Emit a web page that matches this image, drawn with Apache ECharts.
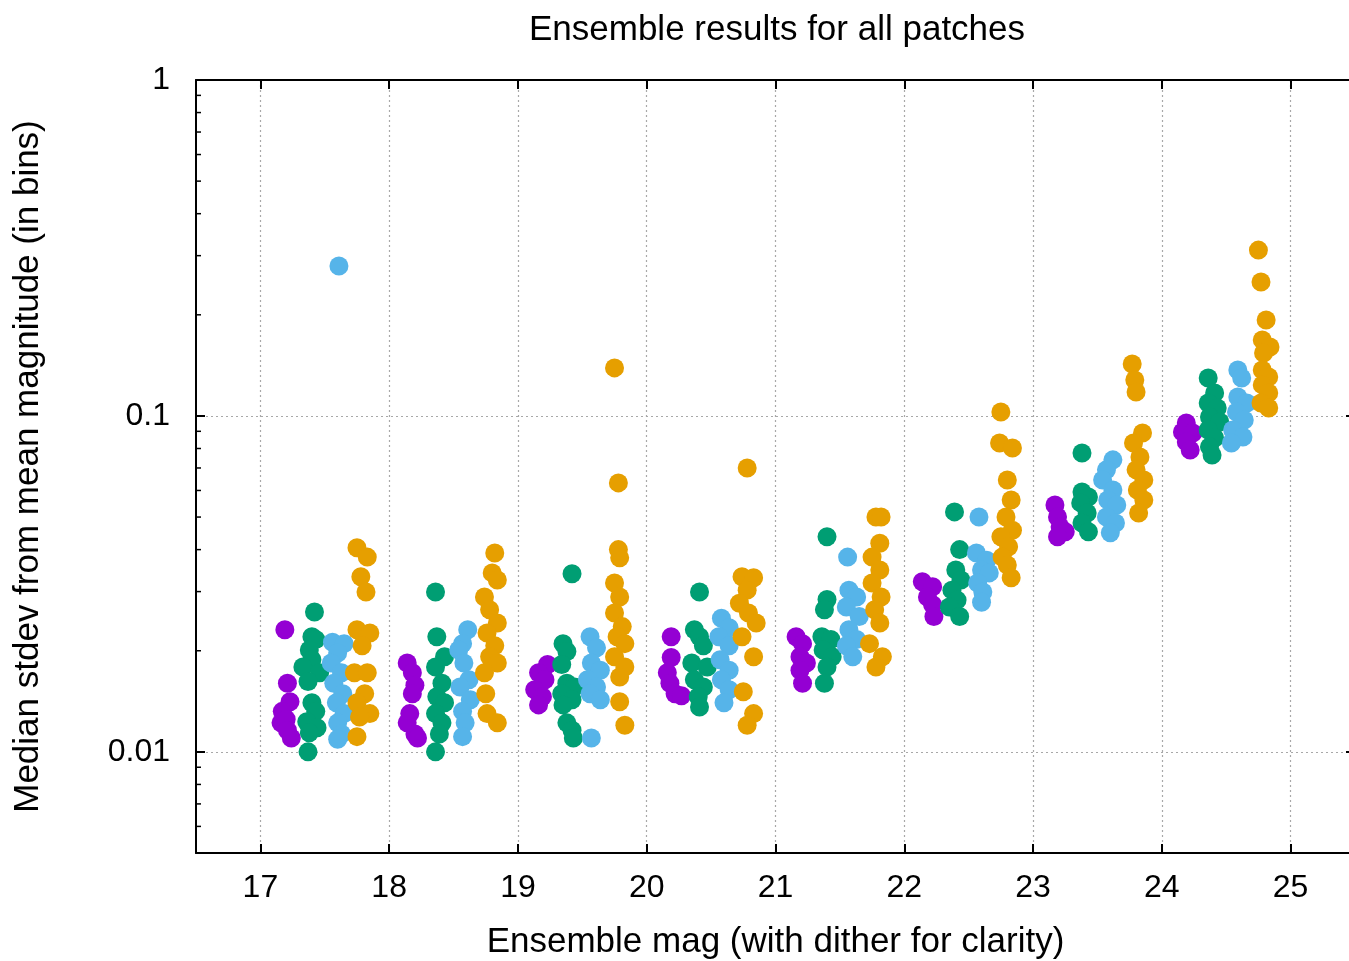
<!DOCTYPE html>
<html>
<head>
<meta charset="utf-8">
<script src="https://cdn.jsdelivr.net/npm/echarts@6/dist/echarts.min.js"></script>
<style>
html,body{margin:0;padding:0;background:#fff;}
#chart{width:1349px;height:961px;}
</style>
</head>
<body>
<div id="chart"></div>
<script>
// ---- data (x = ensemble mag with dither, y = median stdev) ----
const xTicks = [17, 18, 19, 20, 21, 22, 23, 24, 25];
const yMajorTicks = [0.01, 0.1, 1];
const yMinorTicks = [0.006, 0.007, 0.008, 0.009,
  0.02, 0.03, 0.04, 0.05, 0.06, 0.07, 0.08, 0.09,
  0.2, 0.3, 0.4, 0.5, 0.6, 0.7, 0.8, 0.9];

const purplePts = [
  [17.19,0.0231],[17.21,0.0160],[17.23,0.0141],[17.17,0.0132],[17.16,0.0122],[17.20,0.0125],[17.24,0.0110],[17.21,0.0116],
  [18.14,0.0184],[18.18,0.0172],[18.20,0.0158],[18.18,0.0149],[18.16,0.0130],[18.14,0.0122],[18.20,0.0113],[18.22,0.0110],
  [19.23,0.0182],[19.16,0.0172],[19.21,0.0164],[19.13,0.0153],[19.19,0.0146],[19.16,0.0138],
  [20.19,0.0220],[20.19,0.0191],[20.16,0.0172],[20.18,0.0160],[20.22,0.0149],[20.27,0.0147],
  [21.16,0.0220],[21.21,0.0210],[21.19,0.0192],[21.24,0.0184],[21.19,0.0175],[21.21,0.0160],
  [22.14,0.0321],[22.22,0.0310],[22.18,0.0289],[22.22,0.0274],[22.23,0.0253],
  [23.17,0.0543],[23.19,0.0500],[23.21,0.0467],[23.25,0.0452],[23.19,0.0437],
  [24.19,0.0953],[24.16,0.0896],[24.24,0.0890],[24.19,0.0837],[24.22,0.0792]
];
const greenPts = [
  [17.42,0.0261],[17.40,0.0220],[17.43,0.0216],[17.38,0.0201],[17.40,0.0188],[17.33,0.0179],[17.46,0.0172],[17.37,0.0162],
  [17.40,0.0140],[17.43,0.0132],[17.36,0.0123],[17.44,0.0118],[17.38,0.0114],[17.37,0.0100],
  [18.36,0.0299],[18.37,0.0220],[18.43,0.0192],[18.36,0.0179],[18.41,0.0160],[18.37,0.0146],[18.43,0.0140],[18.36,0.0130],
  [18.41,0.0122],[18.39,0.0113],[18.36,0.0100],
  [19.42,0.0339],[19.35,0.0210],[19.38,0.0199],[19.34,0.0182],[19.38,0.0160],[19.44,0.0156],[19.34,0.0149],[19.42,0.0143],
  [19.35,0.0138],[19.38,0.0122],[19.42,0.0116],[19.43,0.0110],
  [20.41,0.0299],[20.37,0.0231],[20.41,0.0220],[20.44,0.0207],[20.35,0.0184],[20.47,0.0179],[20.37,0.0164],[20.44,0.0156],
  [20.40,0.0146],[20.41,0.0136],
  [21.40,0.0437],[21.40,0.0284],[21.38,0.0265],[21.36,0.0220],[21.43,0.0216],[21.37,0.0201],[21.44,0.0192],[21.40,0.0179],[21.38,0.0160],
  [22.39,0.0518],[22.43,0.0400],[22.40,0.0348],[22.44,0.0325],[22.37,0.0303],[22.41,0.0283],[22.35,0.0270],[22.43,0.0253],
  [23.38,0.0776],[23.38,0.0594],[23.43,0.0574],[23.37,0.0551],[23.42,0.0514],[23.38,0.0480],[23.43,0.0452],
  [24.36,0.1297],[24.41,0.1171],[24.36,0.1093],[24.43,0.1056],[24.37,0.0993],[24.45,0.0960],[24.36,0.0908],[24.41,0.0860],
  [24.37,0.0809],[24.39,0.0765]
];
const bluePts = [
  [17.56,0.0212],[17.65,0.0210],[17.60,0.0197],[17.55,0.0184],[17.63,0.0172],[17.57,0.0160],[17.64,0.0149],[17.59,0.0140],
  [17.65,0.0130],[17.60,0.0122],[17.63,0.0113],[17.60,0.0109],[17.61,0.2795],
  [18.61,0.0231],[18.57,0.0210],[18.54,0.0201],[18.58,0.0184],[18.62,0.0164],[18.55,0.0156],[18.63,0.0143],[18.57,0.0132],
  [18.59,0.0122],[18.57,0.0111],
  [19.56,0.0220],[19.61,0.0204],[19.57,0.0184],[19.64,0.0175],[19.54,0.0164],[19.61,0.0156],[19.56,0.0149],[19.64,0.0143],[19.57,0.0110],
  [20.58,0.0250],[20.64,0.0234],[20.56,0.0220],[20.64,0.0207],[20.57,0.0188],[20.64,0.0175],[20.58,0.0164],[20.64,0.0153],[20.60,0.0140],
  [21.56,0.0380],[21.57,0.0303],[21.63,0.0289],[21.55,0.0270],[21.65,0.0253],[21.57,0.0231],[21.63,0.0216],[21.55,0.0207],[21.60,0.0192],
  [22.58,0.0500],[22.56,0.0391],[22.64,0.0372],[22.60,0.0348],[22.66,0.0341],[22.57,0.0318],[22.61,0.0299],[22.60,0.0279],
  [23.62,0.0740],[23.57,0.0691],[23.54,0.0645],[23.62,0.0602],[23.58,0.0562],[23.65,0.0543],[23.57,0.0500],[23.64,0.0480],[23.60,0.0449],
  [24.59,0.1370],[24.62,0.1297],[24.59,0.1139],[24.66,0.1093],[24.58,0.1028],[24.64,0.0973],[24.55,0.0908],[24.63,0.0866],[24.54,0.0831]
];
const orangePts = [
  [17.75,0.0405],[17.83,0.0380],[17.78,0.0332],[17.82,0.0299],[17.75,0.0231],[17.85,0.0226],[17.79,0.0207],[17.73,0.0172],
  [17.83,0.0172],[17.81,0.0149],[17.75,0.0140],[17.85,0.0130],[17.77,0.0127],[17.75,0.0111],
  [18.82,0.0391],[18.80,0.0341],[18.84,0.0325],[18.74,0.0289],[18.78,0.0265],[18.84,0.0242],[18.76,0.0226],[18.82,0.0207],
  [18.78,0.0192],[18.84,0.0184],[18.74,0.0172],[18.75,0.0149],[18.76,0.0130],[18.84,0.0122],
  [19.75,0.1390],[19.78,0.0632],[19.78,0.0400],[19.79,0.0378],[19.75,0.0318],[19.79,0.0289],[19.75,0.0259],[19.81,0.0236],
  [19.77,0.0220],[19.83,0.0210],[19.75,0.0192],[19.83,0.0179],[19.79,0.0167],[19.79,0.0141],[19.83,0.0120],
  [20.78,0.0700],[20.74,0.0332],[20.83,0.0330],[20.78,0.0303],[20.72,0.0277],[20.79,0.0259],[20.85,0.0242],[20.74,0.0220],
  [20.83,0.0192],[20.75,0.0151],[20.83,0.0130],[20.78,0.0120],
  [21.78,0.0500],[21.82,0.0500],[21.81,0.0418],[21.75,0.0380],[21.81,0.0348],[21.75,0.0318],[21.82,0.0289],[21.77,0.0265],
  [21.81,0.0242],[21.73,0.0210],[21.83,0.0192],[21.78,0.0179],
  [22.75,0.1028],[22.74,0.0831],[22.84,0.0803],[22.80,0.0645],[22.83,0.0562],[22.79,0.0500],[22.84,0.0457],[22.75,0.0437],
  [22.81,0.0408],[22.76,0.0380],[22.80,0.0360],[22.83,0.0330],
  [23.77,0.1428],[23.79,0.1280],[23.80,0.1179],[23.85,0.0890],[23.78,0.0831],[23.83,0.0755],[23.80,0.0691],[23.86,0.0645],
  [23.81,0.0602],[23.86,0.0562],[23.82,0.0514],
  [24.75,0.3116],[24.77,0.2505],[24.81,0.1931],[24.78,0.1684],[24.84,0.1604],[24.79,0.1540],[24.78,0.1370],[24.83,0.1306],
  [24.78,0.1237],[24.83,0.1171],[24.77,0.1093],[24.83,0.1056]
];

// ---- chart ----
const FONT = 'Liberation Sans';
const X_MIN = 16.5, X_MAX = 25.5, Y_MIN = 0.005, Y_MAX = 1;
const gridLine = { show: true, lineStyle: { color: '#a8a8a8', width: 1.2, type: [2, 3] } };

const chart = echarts.init(document.getElementById('chart'), null, { renderer: 'canvas' });

function scatter(name, data, color) {
  return {
    name: name, type: 'scatter', data: data, symbol: 'circle', symbolSize: 19,
    itemStyle: { color: color, opacity: 1 }, xAxisIndex: 0, yAxisIndex: 0, z: 3
  };
}

const minorTickSeries = {
  type: 'custom', silent: true, z: 5, clip: false,
  xAxisIndex: 0, yAxisIndex: 0,
  data: yMinorTicks.map(v => [v]),
  renderItem: function (params, api) {
    const v = api.value(0);
    const pl = api.coord([X_MIN, v]);
    const pr = api.coord([X_MAX, v]);
    const len = 5;
    return {
      type: 'group',
      children: [
        { type: 'line', shape: { x1: pl[0], y1: pl[1], x2: pl[0] + len, y2: pl[1] }, style: { stroke: '#000', lineWidth: 1.5 } },
        { type: 'line', shape: { x1: pr[0], y1: pr[1], x2: pr[0] - len, y2: pr[1] }, style: { stroke: '#000', lineWidth: 1.5 } }
      ]
    };
  }
};

const option = {
  animation: false,
  backgroundColor: '#fff',
  textStyle: { fontFamily: FONT },
  title: {
    text: 'Ensemble results for all patches',
    left: 772, top: 8, textAlign: 'center',
    textStyle: { fontFamily: FONT, fontSize: 35, fontWeight: 'normal', color: '#000' }
  },
  grid: { left: 196, top: 80, right: -6, bottom: 108, containLabel: false, outerBoundsMode: 'none' },
  xAxis: [
    {
      type: 'value', min: X_MIN, max: X_MAX, position: 'bottom',
      name: 'Ensemble mag (with dither for clarity)', nameLocation: 'middle', nameGap: 72,
      nameTextStyle: { fontFamily: FONT, fontSize: 35, color: '#000' },
      axisLine: { show: true, onZero: false, lineStyle: { color: '#000', width: 2 } },
      axisTick: { show: true, inside: true, length: 9, customValues: xTicks, lineStyle: { color: '#000', width: 2 } },
      axisLabel: { show: true, customValues: xTicks, margin: 19, fontFamily: FONT, fontSize: 32, color: '#000',
        formatter: v => String(v) },
      splitLine: gridLine
    },
    {
      type: 'value', min: X_MIN, max: X_MAX, position: 'top',
      axisLine: { show: true, onZero: false, lineStyle: { color: '#000', width: 2 } },
      axisTick: { show: true, inside: true, length: 9, customValues: xTicks, lineStyle: { color: '#000', width: 2 } },
      axisLabel: { show: false },
      splitLine: { show: false }
    }
  ],
  yAxis: [
    {
      type: 'log', logBase: 10, min: Y_MIN, max: Y_MAX, position: 'left',
      name: 'Median stdev from mean magnitude (in bins)', nameLocation: 'middle', nameGap: 150,
      nameTextStyle: { fontFamily: FONT, fontSize: 35, color: '#000' },
      axisLine: { show: true, onZero: false, lineStyle: { color: '#000', width: 2 } },
      axisTick: { show: true, inside: true, length: 9, customValues: yMajorTicks, lineStyle: { color: '#000', width: 2 } },
      axisLabel: { show: true, customValues: yMajorTicks, margin: 26, fontFamily: FONT, fontSize: 32, color: '#000',
        formatter: v => String(+v.toPrecision(3)) },
      splitLine: gridLine,
      minorTick: { show: false }
    },
    {
      type: 'log', logBase: 10, min: Y_MIN, max: Y_MAX, position: 'right',
      axisLine: { show: true, onZero: false, lineStyle: { color: '#000', width: 2 } },
      axisTick: { show: true, inside: true, length: 9, customValues: yMajorTicks, lineStyle: { color: '#000', width: 2 } },
      axisLabel: { show: false },
      splitLine: { show: false }
    }
  ],
  series: [
    scatter('purple', purplePts, '#9400d3'),
    scatter('green', greenPts, '#009e73'),
    scatter('blue', bluePts, '#56b4e9'),
    scatter('orange', orangePts, '#e69f00'),
    minorTickSeries
  ]
};
chart.setOption(option);
</script>
</body>
</html>
